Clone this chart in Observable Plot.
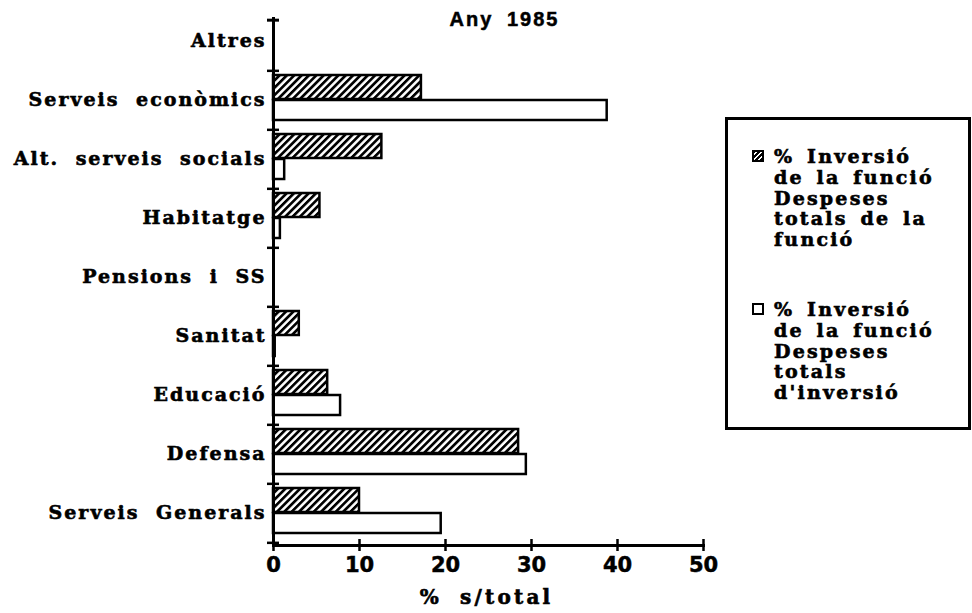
<!DOCTYPE html>
<html>
<head>
<meta charset="utf-8">
<script src="https://cdn.jsdelivr.net/npm/d3@7"></script>
<script src="https://cdn.jsdelivr.net/npm/@observablehq/plot@0.6"></script>
<style>
  html, body { margin: 0; padding: 0; background: #fff; }
  #wrap { position: relative; width: 972px; height: 613px; overflow: hidden; }
  #legend {
    position: absolute; left: 725px; top: 117px; width: 246px; height: 313px;
    box-sizing: border-box; border: 3px solid #000; background: #fff;
    font-family: "DejaVu Serif", serif; font-weight: bold; font-size: 19px;
    line-height: 20.8px; color: #000;
  }
  .entry { position: absolute; left: 24px; }
  .sw { position: absolute; left: 0; top: 4px; width: 12px; height: 12px; border: 2px solid #000; box-sizing: border-box; }
  .txt { position: absolute; left: 22px; top: 0; white-space: pre; letter-spacing: 2.2px; word-spacing: 4px; -webkit-text-stroke: 0.6px #000; }
</style>
</head>
<body>
<div id="wrap"></div>
<script>
const categories = ["Altres", "Serveis econòmics", "Alt. serveis socials", "Habitatge", "Pensions i SS", "Sanitat", "Educació", "Defensa", "Serveis Generals"];
const despesesFuncio = [0, 17.2, 12.6, 5.4, 0, 3.0, 6.3, 28.5, 10.0];
const despesesInversio = [0, 38.8, 1.3, 0.8, 0, 0.2, 7.8, 29.4, 19.5];
const xTicks = [0, 10, 20, 30, 40, 50];
const seriesLabels = [
  "% Inversió\nde la funció\nDespeses\ntotals de la\nfunció",
  "% Inversió\nde la funció\nDespeses\ntotals\nd'inversió"
];
const titleText = "Any 1985";
const xLabel = "% s/total";

const W = 972, H = 613, mT = 8, mB = 68, mL = 273, mR = 269;
const bw = (H - mT - mB) / categories.length;

const rowsF = categories.map((c, i) => ({cat: c, v: despesesFuncio[i]})).filter(d => d.v > 0);
const rowsI = categories.map((c, i) => ({cat: c, v: despesesInversio[i]})).filter(d => d.v > 0);

const serif = "DejaVu Serif";

const chart = Plot.plot({
  width: W, height: H,
  marginTop: mT, marginBottom: mB, marginLeft: mL, marginRight: mR,
  style: {fontFamily: serif, background: "#fff", color: "#000"},
  x: {domain: [0, 50]},
  y: {domain: categories, padding: 0},
  marks: [
    Plot.barX(rowsF, {y: "cat", x1: 0, x2: "v", insetTop: 5, insetBottom: 30, fill: "url(#hatch)", stroke: "#000", strokeWidth: 2.5}),
    Plot.barX(rowsI, {y: "cat", x1: 0, x2: "v", insetTop: 30, insetBottom: 9, fill: "#fff", stroke: "#000", strokeWidth: 2.5}),
    Plot.axisY({tickSize: 0, tickPadding: 7, fontSize: 19, fontWeight: "bold", fontFamily: serif, label: null}),
    Plot.ruleX([0], {insetTop: 9, strokeWidth: 3, stroke: "#000"}),
    Plot.ruleY(categories, {y: d => d, x1: -0.7, x2: 0.7, dy: bw / 2, strokeWidth: 2.5}),
    Plot.ruleY([categories[0]], {y: d => d, x1: -0.7, x2: 0.7, dy: -bw / 2 + 9, strokeWidth: 3}),
    Plot.frame({anchor: "bottom", strokeWidth: 3, stroke: "#000"}),
    Plot.ruleX(xTicks, {x: d => d, insetTop: H - mT - mB - 6, strokeWidth: 2.5}),
    Plot.axisX(xTicks, {tickSize: 6, tickPadding: 6, strokeWidth: 2.5, fontSize: 21, fontWeight: "bold", fontFamily: "DejaVu Sans", label: null}),
    Plot.text([xLabel], {frameAnchor: "bottom", dx: -2, dy: 58, fontSize: 20, fontWeight: "bold", fontFamily: serif}),
    Plot.text([titleText], {frameAnchor: "top", dx: 16, dy: 3, fontSize: 20, fontWeight: "bold", fontFamily: "Liberation Sans"})
  ]
});

// hatch pattern
const ns = "http://www.w3.org/2000/svg";
const defs = document.createElementNS(ns, "defs");
defs.innerHTML = `<pattern id="hatch" patternUnits="userSpaceOnUse" width="5.2" height="5.2" patternTransform="rotate(45)">
  <rect width="5.2" height="5.2" fill="#fff"/>
  <line x1="0" y1="0" x2="0" y2="5.2" stroke="#000" stroke-width="5.4"/>
</pattern>`;
chart.insertBefore(defs, chart.firstChild);

// text spacing / weight to imitate the wide heavy original typeface
chart.querySelectorAll('g[aria-label="y-axis tick label"] text').forEach(t => {
  t.style.letterSpacing = "2px"; t.style.wordSpacing = "8px";
  t.style.stroke = "#000"; t.style.strokeWidth = "0.6px";
});
chart.querySelectorAll('g[aria-label="x-axis tick label"] text').forEach(t => {
  t.style.stroke = "#000"; t.style.strokeWidth = "0.5px";
});
chart.querySelectorAll('g[aria-label="text"] text').forEach(t => {
  if (t.textContent === xLabel) { t.style.letterSpacing = "3.2px"; t.style.wordSpacing = "8px"; t.style.stroke = "#000"; t.style.strokeWidth = "0.6px"; }
  if (t.textContent === titleText) { t.style.letterSpacing = "2px"; t.style.wordSpacing = "6px"; t.style.stroke = "#000"; t.style.strokeWidth = "0.5px"; }
});

const wrap = document.getElementById("wrap");
wrap.appendChild(chart);

const legend = document.createElement("div");
legend.id = "legend";
const tops = [26, 179];
seriesLabels.forEach((lab, i) => {
  const e = document.createElement("div");
  e.className = "entry";
  e.style.top = tops[i] + "px";
  const sw = document.createElement("div");
  sw.className = "sw";
  sw.style.background = i === 0 ? "repeating-linear-gradient(-45deg, #000 0 2px, #fff 2px 3.5px)" : "#fff";
  const t = document.createElement("div");
  t.className = "txt";
  t.textContent = lab;
  e.appendChild(sw); e.appendChild(t);
  legend.appendChild(e);
});
wrap.appendChild(legend);
</script>
</body>
</html>
